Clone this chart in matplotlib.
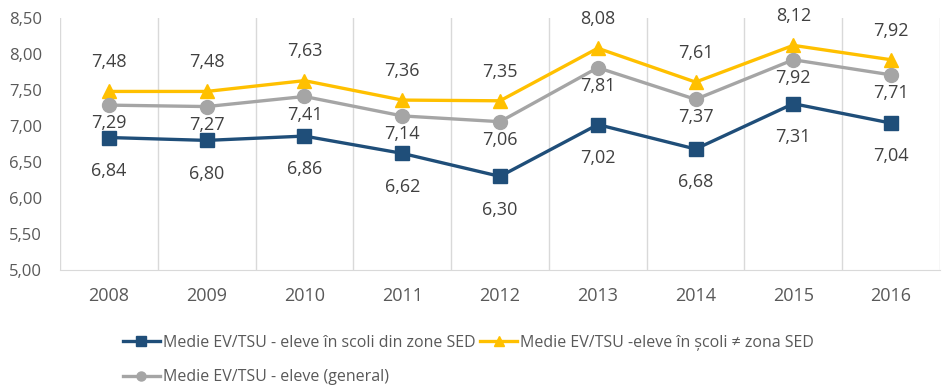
import matplotlib
matplotlib.use("Agg")
import matplotlib.pyplot as plt
from matplotlib.ticker import FixedLocator, FuncFormatter

years = ["2008", "2009", "2010", "2011", "2012", "2013", "2014", "2015", "2016"]
sed = [6.84, 6.80, 6.86, 6.62, 6.30, 7.02, 6.68, 7.31, 7.04]
non_sed = [7.48, 7.48, 7.63, 7.36, 7.35, 8.08, 7.61, 8.12, 7.92]
general = [7.29, 7.27, 7.41, 7.14, 7.06, 7.81, 7.37, 7.92, 7.71]
labels = ["Medie EV/TSU - eleve în scoli din zone SED",
          "Medie EV/TSU -eleve în școli ≠ zona SED",
          "Medie EV/TSU - eleve (general)"]

plt.rcParams['font.family'] = ['Open Sans', 'DejaVu Sans']

fig = plt.figure(figsize=(9.42, 3.91), dpi=100)
ax = fig.add_axes([60/942, 1-270/391, 880/942, 252/391])

x = list(range(len(years)))
blue = '#1F4E79'
yellow = '#FFC000'
gray = '#A5A5A5'

h_sed, = ax.plot(x, sed, color=blue, lw=2.4, marker='s', ms=10, zorder=3)
h_non, = ax.plot(x, non_sed, color=yellow, lw=2.4, marker='^', ms=10, zorder=3)
h_gen, = ax.plot(x, general, color=gray, lw=2.4, marker='o', ms=10, zorder=3)

def fmt(v):
    return f"{v:.2f}".replace('.', ',')

txtc = '#404040'
lfs = 13
for xi, v in zip(x, sed):
    ax.annotate(fmt(v), (xi, v), xytext=(0, -24), textcoords='offset points',
                ha='center', va='center', fontsize=lfs, color=txtc)
for xi, v in zip(x, non_sed):
    ax.annotate(fmt(v), (xi, v), xytext=(0, 21), textcoords='offset points',
                ha='center', va='center', fontsize=lfs, color=txtc)
for xi, v in zip(x, general):
    ax.annotate(fmt(v), (xi, v), xytext=(0, -13), textcoords='offset points',
                ha='center', va='center', fontsize=lfs, color=txtc)

ax.set_xlim(-0.5, len(years) - 0.5)
ax.set_ylim(5.0, 8.5)
ax.set_xticks(x)
ax.set_xticklabels(years, fontsize=13, color='#595959')
ax.xaxis.set_minor_locator(FixedLocator([i - 0.5 for i in range(len(years) + 1)]))
ax.grid(True, which='minor', axis='x', color='#D9D9D9', lw=1)
ax.tick_params(axis='x', which='both', length=0, pad=12)
ax.set_yticks([5.0 + 0.5 * i for i in range(8)])
ax.yaxis.set_major_formatter(FuncFormatter(lambda v, p: fmt(v)))
ax.tick_params(axis='y', length=0, labelsize=12, labelcolor='#595959', pad=13)

for s in ['top', 'right', 'left']:
    ax.spines[s].set_visible(False)
ax.spines['bottom'].set_color('#D9D9D9')

leg = fig.legend([h_sed, h_gen, h_non], [labels[0], labels[2], labels[1]],
                 ncol=2, loc='upper left', bbox_to_anchor=(123/942, 1-335/391),
                 frameon=False, fontsize=11.5, handlelength=2.3, columnspacing=0.3,
                 handletextpad=0.2, labelspacing=1.15, borderaxespad=0, borderpad=0,
                 markerscale=0.65)
for t in leg.get_texts():
    t.set_color('#595959')

fig.savefig('out.png', dpi=100)
